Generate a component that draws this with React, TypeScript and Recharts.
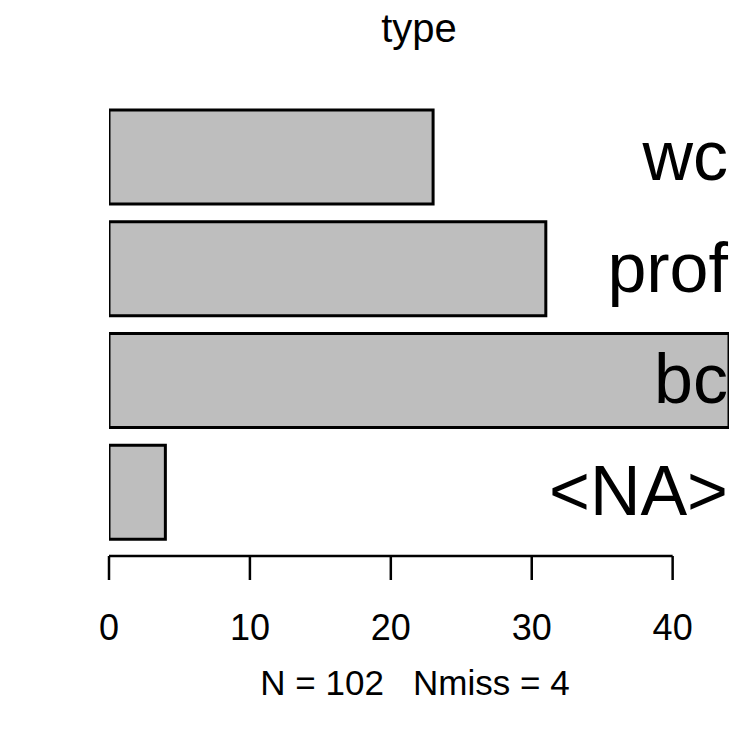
import React from 'react';
import { BarChart, Bar, XAxis, YAxis } from 'recharts';

const categories = ['wc', 'prof', 'bc', '<NA>'];
const counts = [23, 31, 44, 4];
const xTicks = [0, 10, 20, 30, 40];
const xMax = 44;
const title = 'type';
const footer = 'N = 102   Nmiss = 4';

const FONT = '"Liberation Sans", Arial, sans-serif';
const W = 738;
const H = 733;

const chartData = categories.map((name, i) => ({ name, count: counts[i] }));

// x axis in R style: the line only runs from the first to the last tick
const CountTick = (props: any) => {
  const { x, y, payload, index, width } = props;
  const w = Number(width) || 620;
  const last = xTicks[xTicks.length - 1];
  const lineEnd = x + ((last - payload.value) * w) / xMax;
  return (
    <g>
      {index === 0 && (
        <line x1={x} y1={y} x2={lineEnd} y2={y} stroke="#000" strokeWidth={2.5} />
      )}
      <line x1={x} y1={y} x2={x} y2={y + 24} stroke="#000" strokeWidth={2.5} />
      <text x={x} y={y + 84} textAnchor="middle" fontSize={36} fontFamily={FONT} fill="#000">
        {payload.value}
      </text>
    </g>
  );
};

// category names sit right-aligned against the plot's right edge
const NameTick = (props: any) => {
  const { x, y, payload } = props;
  return (
    <text x={x - 1} y={y + 23} textAnchor="end" fontSize={70} fontFamily={FONT} fill="#000">
      {payload.value}
    </text>
  );
};

export default function App() {
  return (
    <div style={{ position: 'absolute', left: 0, top: 0, width: W, height: H, background: '#fff' }}>
      <BarChart
        layout="vertical"
        width={W}
        height={H}
        data={chartData}
        margin={{ top: 101, right: 8, bottom: 97, left: 109 }}
        barCategoryGap={9}
      >
        <XAxis
          type="number"
          dataKey="count"
          domain={[0, xMax]}
          ticks={xTicks}
          allowDataOverflow
          height={80}
          axisLine={false}
          tickLine={false}
          tickSize={0}
          tickMargin={0}
          tick={<CountTick />}
        />
        <Bar dataKey="count" fill="#bebebe" stroke="#000" strokeWidth={3} isAnimationActive={false} />
        <YAxis
          type="category"
          dataKey="name"
          orientation="right"
          width={1}
          interval={0}
          padding={{ top: 0, bottom: 8 }}
          axisLine={false}
          tickLine={false}
          tickSize={0}
          tickMargin={0}
          tick={<NameTick />}
        />
      </BarChart>
      <svg
        width={W}
        height={H}
        style={{ position: 'absolute', left: 0, top: 0, pointerEvents: 'none' }}
      >
        <text x={419} y={42} textAnchor="middle" fontSize={40} fontFamily={FONT} fill="#000">
          {title}
        </text>
        <text x={415} y={695} textAnchor="middle" fontSize={35} fontFamily={FONT} fill="#000" style={{ whiteSpace: 'pre' }}>
          {footer}
        </text>
      </svg>
    </div>
  );
}
